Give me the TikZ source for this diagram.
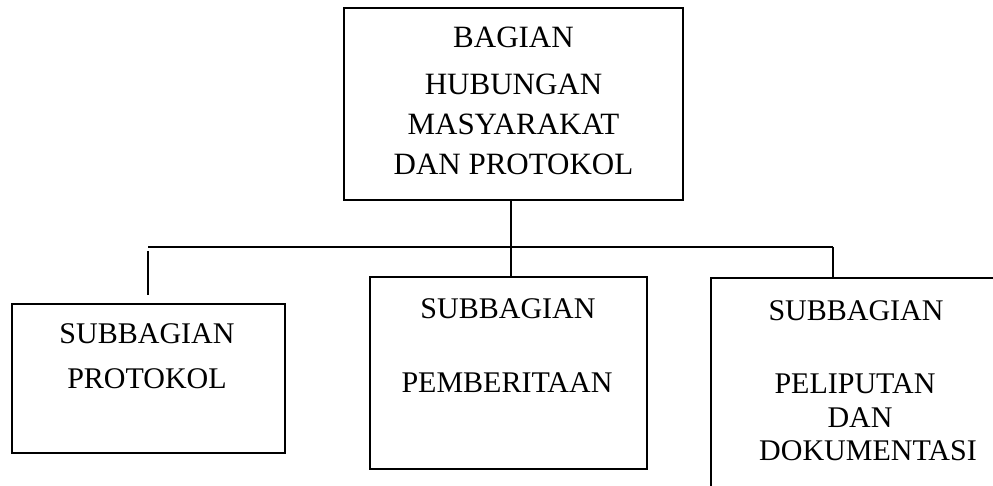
\documentclass[tikz,border=0pt]{standalone}
\usepackage{fontspec}
\setmainfont{Liberation Serif}
\begin{document}
\begin{tikzpicture}[x=1pt,y=1pt,
  box/.style={draw=black,line width=1.4pt,inner sep=0pt,fill=none},
  lbl/.style={inner sep=0pt,anchor=base,font=\fontsize{30}{36}\selectfont},
  conn/.style={draw=black,line width=1.4pt}]
\useasboundingbox (0,0) rectangle (993,-486);
\clip (0,0) rectangle (993,-486);
% boxes
\node[box,minimum width=339pt,minimum height=192pt] (top) at (513.5,-104) {};
\node[box,minimum width=273pt,minimum height=149pt] (lbox) at (148.5,-378.5) {};
\node[box,minimum width=277pt,minimum height=192pt] (mbox) at (508.5,-373) {};
\node[box,minimum width=283pt,minimum height=224pt] (rbox) at (852.5,-390) {};
% texts
\node[lbl,font=\fontsize{31}{36}\selectfont] (t1) at (513.5,-48) {BAGIAN};
\node[lbl,font=\fontsize{31}{36}\selectfont] (t2) at (513.5,-95) {HUBUNGAN};
\node[lbl,font=\fontsize{31}{36}\selectfont] (t3) at (513.5,-135) {MASYARAKAT};
\node[lbl,font=\fontsize{31}{36}\selectfont] (t4) at (513.5,-175) {DAN PROTOKOL};
\node[lbl] (l1) at (147,-343) {SUBBAGIAN};
\node[lbl] (l2) at (147,-388) {PROTOKOL};
\node[lbl] (m1) at (508,-318) {SUBBAGIAN};
\node[lbl] (m2) at (507,-392) {PEMBERITAAN};
\node[lbl] (r1) at (856,-320) {SUBBAGIAN};
\node[lbl] (r2) at (855,-393) {PELIPUTAN};
\node[lbl] (r3) at (860,-427) {DAN};
\node[lbl] (r4) at (868,-460) {DOKUMENTASI};
% connectors
\coordinate (hl) at (148,-247);
\coordinate (hr) at (833,-247);
\coordinate (vt) at ([xshift=-2.5pt]top.south);
\draw[conn] (vt) -- (vt |- mbox.north);
\draw[conn] (hl) -- (hr);
\draw[conn] ([yshift=-4pt]hl) -- ([yshift=8pt]hl |- lbox.north);
\draw[conn] (hr) -- (hr |- rbox.north);
\end{tikzpicture}
\end{document}
